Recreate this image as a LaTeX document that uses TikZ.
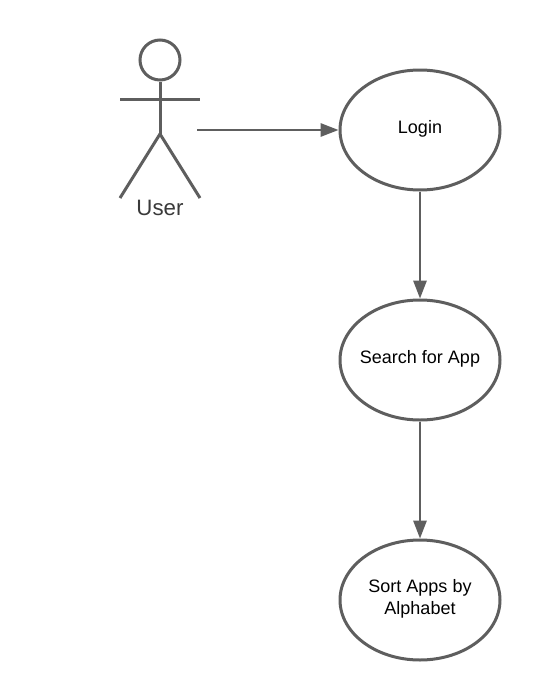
\documentclass[tikz,border=0pt]{standalone}
\usepackage{fontspec}
\setmainfont{Liberation Sans}
\usetikzlibrary{shapes.geometric,arrows.meta}
\definecolor{ln}{HTML}{5E5E5E}
\definecolor{usertext}{HTML}{3A3A3A}
\newcommand{\lowpad}{\rule[-5pt]{0pt}{0pt}}
\tikzset{x=0.75pt,y=-0.75pt,
 usecase/.style={ellipse,draw=ln,line width=2.25pt,minimum width=120pt,minimum height=90pt,inner ysep=0pt,inner xsep=-10pt,align=center,font=\fontsize{13.5pt}{16.5pt}\selectfont,text=black},
 link/.style={draw=ln,line width=1.5pt,-{Triangle[length=13.5pt,width=10pt]}},
 actor/.style={draw=ln,line width=2.25pt}}
\begin{document}
\begin{tikzpicture}
\useasboundingbox[fill=white] (0,0) rectangle (540,700);
\node[usecase] (login) at (420,130) {Login\lowpad};
\node[usecase] (search) at (420,360) {Search for App\lowpad};
\node[usecase] (sort) at (420,600) {Sort Apps by\\Alphabet\lowpad};
\node[circle,actor,minimum size=30pt,inner sep=0pt] (head) at (160,60) {};
\coordinate (hip) at (160,134);
\coordinate (armL) at (120,99);
\coordinate (armR) at (200,99);
\coordinate (footL) at (120,198);
\coordinate (footR) at (200,198);
\coordinate (userEnd) at (197,130);
\draw[actor] (head.south) -- (hip);
\draw[actor] (armL) -- (armR);
\draw[actor] (footL) -- (hip) -- (footR);
\node[font=\fontsize{16.7pt}{20pt}\selectfont,text=usertext] (user) at (160,208) {User};
\draw[link] (userEnd) -- (login.west);
\draw[link] (login.south) -- (search.north);
\draw[link] (search.south) -- (sort.north);
\end{tikzpicture}
\end{document}
